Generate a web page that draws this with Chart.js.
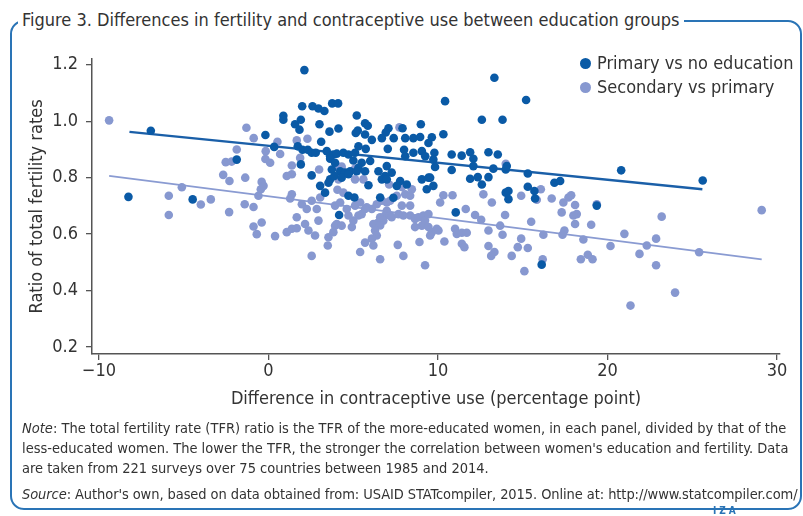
<!DOCTYPE html>
<html>
<head>
<meta charset="utf-8">
<script src="https://cdn.jsdelivr.net/npm/chart.js@4.4.1/dist/chart.umd.min.js"></script>
<style>
  body { margin: 0; background: #fff; width: 803px; height: 516px; overflow: hidden; position: relative;
         font-family: "Liberation Sans Narrow", "DejaVu Sans Condensed", "Arial Narrow", sans-serif; color: #333; }
  #frame { position: absolute; left: 10px; top: 20px; width: 792px; height: 490px;
           border: 2px solid #2a74b6; border-radius: 14px; box-sizing: border-box; }
  #title { position: absolute; left: 18px; top: 9px; background: #fff; padding: 0 5px 0 4px;
           font-size: 18px; line-height: 22px; color: #333; }
  #chartBox { position: absolute; left: 0; top: 40px; width: 803px; height: 380px; }
  .legend { position: absolute; left: 580px; font-size: 18px; line-height: 20px; color: #333; }
  .legend span { display: inline-block; width: 11px; height: 11px; border-radius: 50%; margin-right: 6px; vertical-align: 0px; }
  #notes { position: absolute; left: 22px; top: 418px; width: 780px; font-size: 14.5px; line-height: 20px; color: #333; }
  #source { position: absolute; left: 22px; top: 484px; font-size: 14.5px; line-height: 20px; color: #333;
            white-space: nowrap; letter-spacing: -0.08px; }
  #iza { position: absolute; left: 713px; top: 505px; font-size: 10px; font-weight: bold; color: #2a74b6; letter-spacing: 3px; }
</style>
</head>
<body>
<div id="frame"></div>
<div id="title">Figure 3. Differences in fertility and contraceptive use between education groups</div>
<div id="chartBox"><canvas id="scatterChart" width="803" height="380"></canvas></div>
<div class="legend" style="top:53px"><span style="background:#0a5aa6"></span>Primary vs no education</div>
<div class="legend" style="top:77px"><span style="background:#8798d0"></span>Secondary vs primary</div>
<div id="notes"><i>Note</i>: The total fertility rate (TFR) ratio is the TFR of the more-educated women, in each panel, divided by that of the less-educated women. The lower the TFR, the stronger the correlation between women's education and fertility. Data are taken from 221 surveys over 75 countries between 1985 and 2014.</div>
<div id="source"><i>Source</i>: Author's own, based on data obtained from: USAID STATcompiler, 2015. Online at: http://www.statcompiler.com/</div>
<div id="iza">IZA</div>
<script>
const FONT = '"Liberation Sans Narrow", "DejaVu Sans Condensed", "Arial Narrow", sans-serif';

// Primary vs no education (difference in contraceptive use, TFR ratio)
const primaryX = [-6.94, -0.18, -1.87, -8.26, -4.47,
  2.12, 1.99, 2.60, 2.95, 3.30, 3.76, 4.11, 0.88, 0.88, 5.21, 5.70, 5.86, 1.57, 1.91, 1.83,
  3.01, 3.60, 4.13, 5.27, 5.15, 5.70, 6.10, 7.08, 6.92, 7.39, 6.69, 7.91, 8.99, 8.07, 8.55,
  8.95, 9.64, 9.44, 0.34, 3.11, 1.73, 2.01, 2.32, 2.55, 2.79, 3.44, 3.64, 3.83, 4.03, 4.42,
  4.72, 5.11, 5.31, 5.74, 7.04, 8.00, 8.07, 8.55, 9.05, 9.25, 9.79, 9.73, 1.91, 3.64, 3.93,
  5.01, 5.50, 6.00, 5.31, 3.74, 4.23, 4.52, 4.82, 5.21, 5.70, 6.49, 6.98, 7.27, 6.88, 6.69,
  6.98, 2.55, 3.64, 3.89, 4.32, 4.72, 3.05, 3.34, 3.54, 5.90, 7.77, 8.16, 7.57, 9.05, 9.44,
  9.34, 9.73, 4.72, 5.07, 6.59, 7.37, 4.17,
  13.33, 10.42, 15.20, 12.59, 13.81, 10.32, 9.83, 9.54, 10.81, 11.40, 11.90, 12.09, 12.98, 13.53,
  10.81, 12.09, 13.27, 14.06, 14.00, 15.30, 11.90, 12.35, 12.98, 12.59, 14.00, 14.16, 15.30, 15.69,
  16.87, 17.21, 14.16, 15.73, 19.37, 11.05, 16.12, 20.81, 25.62];
const primaryY = [0.966, 0.951, 0.864, 0.732, 0.723,
  1.181, 1.053, 1.053, 1.045, 1.036, 1.063, 1.063, 1.019, 1.005, 1.020, 0.993, 0.984, 0.989, 1.005, 0.970,
  0.989, 0.963, 0.974, 0.967, 0.958, 0.953, 0.934, 0.975, 0.960, 0.940, 0.940, 0.975, 0.989, 0.940, 0.940,
  0.944, 0.943, 0.923, 0.909, 0.927, 0.911, 0.899, 0.899, 0.888, 0.888, 0.894, 0.876, 0.882, 0.885, 0.888,
  0.882, 0.888, 0.911, 0.902, 0.902, 0.899, 0.876, 0.888, 0.894, 0.876, 0.888, 0.864, 0.847, 0.867, 0.853,
  0.861, 0.853, 0.859, 0.835, 0.829, 0.823, 0.818, 0.823, 0.823, 0.823, 0.823, 0.841, 0.818, 0.806, 0.794,
  0.794, 0.808, 0.794, 0.806, 0.800, 0.812, 0.771, 0.747, 0.782, 0.773, 0.788, 0.776, 0.771, 0.794, 0.800,
  0.759, 0.771, 0.736, 0.730, 0.730, 0.729, 0.668,
  1.154, 1.071, 1.075, 1.005, 1.005, 0.954, 0.838, 0.800, 0.882, 0.878, 0.890, 0.867, 0.890, 0.882,
  0.827, 0.841, 0.832, 0.841, 0.829, 0.815, 0.796, 0.802, 0.802, 0.776, 0.747, 0.753, 0.768, 0.753,
  0.782, 0.788, 0.724, 0.726, 0.701, 0.677, 0.492, 0.826, 0.790];

// Secondary vs primary
const secondaryX = [-9.40, -1.30, -0.87, -1.87, -2.52, -2.17, -0.18, -2.67, -2.30, -1.37, -0.40, -0.45,
  -0.29, -5.11, -5.88, -3.40, -3.99, -5.88, -2.32, -1.40, -0.88, -0.88, -0.40, -0.69,
  7.73, 0.53, -0.16, 1.67, 2.30, 0.10, 0.69, 1.87, 1.38, 4.03, 4.32, 5.11, 2.99, 1.38, 1.08,
  5.60, 5.11, 4.13, 1.38, 7.12, 7.87, 8.46, -0.59,
  4.07, 4.42, 1.28, 1.97, 2.26, 2.55, 2.85, 3.05, 3.93, 4.23, 4.62, 5.11, 5.41, 5.80, 6.10, 6.39,
  6.69, 6.98, 7.18, 7.57, 8.07, 8.36, 8.36, 6.98, 6.88, 7.18, 6.59, 7.27, 6.78, 6.49, 6.19, 6.59,
  6.29, 6.39, 6.10, 5.70, 6.19, 5.41, 6.59, 7.63, 7.96, 8.91, 9.24, 0.39, 1.08, 1.38, 1.67, 1.67,
  2.16, 2.36, 2.75, 2.95, 3.54, 3.50, 3.83, 3.93, 4.03, 4.32, 4.92, 5.01, 5.31, 4.72, 5.50, 5.70,
  2.55, 8.36, 8.65, 8.85, 9.14, 9.24, 9.05, 8.65, 9.44, 9.64, 9.93, 9.54, 7.67, 7.96, 7.87,
  14.00, 16.07, 10.32, 10.86, 10.13, 12.68, 13.18, 14.91, 16.71, 15.83, 17.40, 17.70, 17.86, 18.09,
  18.19, 17.99, 18.09, 17.30, 19.37, 19.04, 13.96, 15.50, 11.64, 12.19, 12.55, 9.44, 10.03, 11.01,
  11.11, 11.41, 11.70, 12.98, 13.67, 13.81, 10.38, 11.41, 11.56, 12.98, 13.33, 13.14, 14.35, 14.71,
  15.30, 14.91, 16.22, 17.46, 17.35, 18.58, 18.43, 18.84, 19.12, 16.18, 15.10,
  29.10, 23.20, 21.00, 20.18, 22.87, 22.32, 21.89, 22.87, 25.41, 23.99, 21.36];
const secondaryY = [1.003, 0.977, 0.940, 0.900, 0.855, 0.857, 0.866, 0.810, 0.788, 0.800, 0.785, 0.759,
  0.771, 0.766, 0.736, 0.723, 0.705, 0.668, 0.678, 0.706, 0.696, 0.627, 0.641, 0.600,
  0.978, 0.927, 0.894, 0.932, 0.938, 0.853, 0.884, 0.870, 0.843, 0.841, 0.839, 0.832, 0.829, 0.812, 0.806,
  0.794, 0.794, 0.794, 0.741, 0.776, 0.767, 0.759, 0.736,
  0.757, 0.747, 0.726, 0.706, 0.689, 0.718, 0.689, 0.730, 0.701, 0.712, 0.689, 0.701, 0.712, 0.695, 0.689, 0.706,
  0.718, 0.712, 0.718, 0.736, 0.741, 0.736, 0.701, 0.683, 0.666, 0.666, 0.660, 0.660, 0.648, 0.642, 0.636, 0.631,
  0.613, 0.595, 0.584, 0.570, 0.560, 0.537, 0.511, 0.562, 0.523, 0.572, 0.490, 0.593, 0.607, 0.619, 0.621, 0.660,
  0.636, 0.613, 0.595, 0.648, 0.589, 0.560, 0.607, 0.630, 0.636, 0.630, 0.625, 0.648, 0.666, 0.666, 0.671, 0.689,
  0.523, 0.666, 0.654, 0.660, 0.666, 0.648, 0.630, 0.625, 0.625, 0.607, 0.619, 0.595, 0.671, 0.666, 0.701,
  0.849, 0.759, 0.738, 0.738, 0.712, 0.741, 0.712, 0.736, 0.726, 0.722, 0.712, 0.730, 0.738, 0.703,
  0.671, 0.666, 0.636, 0.677, 0.706, 0.633, 0.668, 0.644, 0.689, 0.668, 0.651, 0.671, 0.613, 0.619,
  0.601, 0.605, 0.605, 0.613, 0.630, 0.598, 0.574, 0.566, 0.554, 0.558, 0.537, 0.523, 0.523, 0.554,
  0.551, 0.584, 0.598, 0.613, 0.598, 0.581, 0.511, 0.527, 0.511, 0.511, 0.469,
  0.685, 0.662, 0.601, 0.558, 0.584, 0.560, 0.530, 0.490, 0.536, 0.393, 0.347];

const trendPrimaryX = [-8.2, 25.6];
const trendPrimaryY = [0.962, 0.759];
const trendSecondaryX = [-9.4, 29.1];
const trendSecondaryY = [0.806, 0.511];

const xTicks = [-10, 0, 10, 20, 30];
const yTicks = [0.2, 0.4, 0.6, 0.8, 1.0, 1.2];

const DARK = '#0a5aa6';
const LIGHT = '#8798d0';

function toPoints(xs, ys) {
    return xs.map((x, i) => ({ x: x, y: ys[i] }));
}

document.addEventListener('DOMContentLoaded', function() {
    const ctx = document.getElementById('scatterChart').getContext('2d');
    new Chart(ctx, {
        type: 'scatter',
        data: {
            datasets: [{
                label: 'Primary vs no education',
                data: toPoints(primaryX, primaryY),
                backgroundColor: DARK,
                borderWidth: 0,
                pointRadius: 4.3
            }, {
                label: 'Secondary vs primary',
                data: toPoints(secondaryX, secondaryY),
                backgroundColor: LIGHT,
                borderWidth: 0,
                pointRadius: 4.3
            }, {
                type: 'line',
                data: toPoints(trendPrimaryX, trendPrimaryY),
                borderColor: '#1a5fa8',
                borderWidth: 2.3,
                pointRadius: 0
            }, {
                type: 'line',
                data: toPoints(trendSecondaryX, trendSecondaryY),
                borderColor: '#8a9bd2',
                borderWidth: 1.8,
                pointRadius: 0
            }]
        },
        options: {
            responsive: false,
            animation: false,
            layout: { padding: { top: 15, right: 23, left: 0, bottom: 0 } },
            scales: {
                x: {
                    type: 'linear',
                    min: -10.41,
                    max: 30.18,
                    afterBuildTicks: (scale) => { scale.ticks = xTicks.map(v => ({ value: v })); },
                    afterFit: (scale) => { scale.height = 66; },
                    grid: { drawOnChartArea: false, drawTicks: true, tickLength: 6, color: '#555', lineWidth: 1.3 },
                    border: { color: '#555', width: 1.5 },
                    ticks: {
                        padding: 1,
                        color: '#333',
                        font: { family: FONT, size: 18 },
                        callback: v => v < 0 ? '\u2212' + Math.abs(v) : String(v)
                    },
                    title: {
                        display: true,
                        text: 'Difference in contraceptive use (percentage point)',
                        color: '#333',
                        font: { family: FONT, size: 18 },
                        padding: { top: 0, bottom: 10 }
                    }
                },
                y: {
                    type: 'linear',
                    min: 0.1755,
                    max: 1.221,
                    afterBuildTicks: (scale) => { scale.ticks = yTicks.map(v => ({ value: v })); },
                    afterFit: (scale) => { scale.width = 92; },
                    grid: { drawOnChartArea: false, drawTicks: true, tickLength: 6, color: '#555', lineWidth: 1.3 },
                    border: { color: '#555', width: 1.5 },
                    ticks: {
                        padding: 8,
                        color: '#333',
                        font: { family: FONT, size: 18 },
                        callback: v => v.toFixed(1)
                    },
                    title: {
                        display: true,
                        text: 'Ratio of total fertility rates',
                        color: '#333',
                        font: { family: FONT, size: 18 },
                        padding: { top: 27, bottom: 0 }
                    }
                }
            },
            plugins: {
                legend: { display: false },
                tooltip: { enabled: false }
            }
        }
    });
});
</script>
</body>
</html>
